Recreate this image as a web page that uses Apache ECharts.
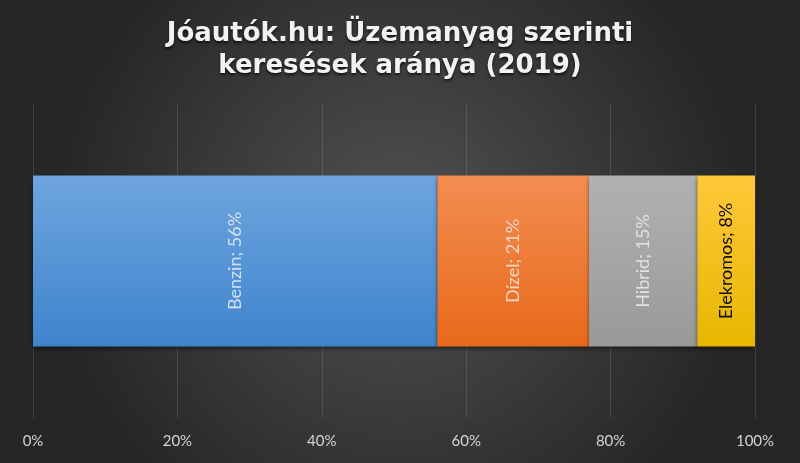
<!DOCTYPE html>
<html><head><meta charset="utf-8">
<script src="https://cdn.jsdelivr.net/npm/echarts@6/dist/echarts.min.js"></script>
<style>html,body{margin:0;padding:0;background:#333;}#c{width:800px;height:463px;}</style>
</head><body><div id="c"></div>
<script>
const titleText = 'Jóautók.hu: Üzemanyag szerinti\nkeresések aránya (2019)';
const categories = ['Benzin', 'Dízel', 'Hibrid', 'Elekromos'];
const values = [56, 21, 15, 8];
const tickMax = 100;
const tickStep = 20;
const colorsTop = ['#6fa5df', '#f38d52', '#b1b1b1', '#ffc83a'];
const colorsBottom = ['#3e84cd', '#e8691a', '#999999', '#e6b700'];
const labelColors = ['#d3e0f0', '#f3d6c4', '#e2e2e2', '#111111'];

const chart = echarts.init(document.getElementById('c'), null, {renderer: 'canvas'});
const series = categories.map((name, i) => ({
  name: name,
  type: 'bar',
  stack: 'total',
  barWidth: 171,
  data: [values[i]],
  itemStyle: {
    color: new echarts.graphic.LinearGradient(0, 0, 0, 1, [
      {offset: 0, color: colorsTop[i]},
      {offset: 1, color: colorsBottom[i]}
    ]),
    shadowColor: 'rgba(0,0,0,0.45)',
    shadowBlur: 4,
    shadowOffsetY: 2
  },
  label: {
    show: true,
    position: 'inside',
    rotate: 90,
    formatter: name + '; ' + values[i] + '%',
    color: labelColors[i],
    fontFamily: 'Lato',
    fontSize: 18
  }
}));

chart.setOption({
  backgroundColor: new echarts.graphic.RadialGradient(0.5, 0.5, 0.75, [
    {offset: 0, color: '#525252'},
    {offset: 1, color: '#262626'}
  ]),
  animation: false,
  title: {
    text: titleText,
    left: 'center',
    top: 13,
    textStyle: {
      color: '#f2f2f2',
      fontFamily: 'DejaVu Sans',
      fontWeight: 'bold',
      fontSize: 26,
      lineHeight: 32,
      textShadowColor: 'rgba(0,0,0,0.7)',
      textShadowBlur: 3,
      textShadowOffsetY: 2
    }
  },
  grid: {left: 33, right: 45, top: 104, bottom: 45, containLabel: false},
  xAxis: {
    type: 'value',
    min: 0,
    max: tickMax,
    interval: tickStep,
    axisLine: {show: false},
    axisTick: {show: false},
    splitLine: {show: true, lineStyle: {color: 'rgba(255,255,255,0.12)', width: 1}},
    axisLabel: {
      formatter: '{value}%',
      color: '#d4d4d4',
      fontFamily: 'Lato',
      fontSize: 15,
      margin: 16
    }
  },
  yAxis: {
    type: 'category',
    data: [''],
    axisLine: {show: false},
    axisTick: {show: false},
    axisLabel: {show: false}
  },
  series: series
});
</script>
</body></html>
